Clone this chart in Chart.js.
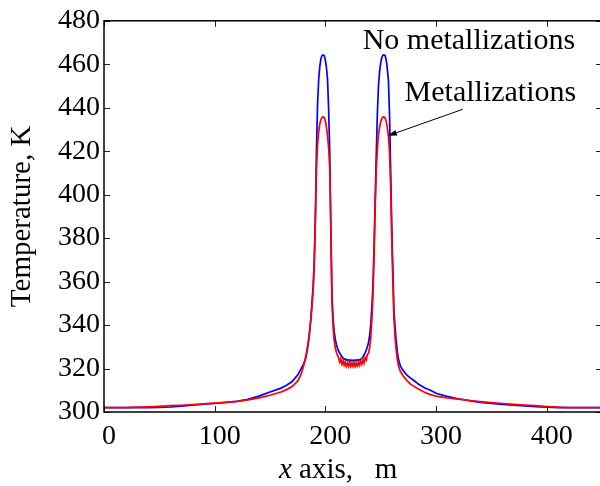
<!DOCTYPE html>
<html>
<head>
<meta charset="utf-8">
<script src="https://cdn.jsdelivr.net/npm/chart.js@4.4.1/dist/chart.umd.min.js"></script>
<style>
  html, body { margin: 0; padding: 0; background: #fff; overflow: hidden; }
  #wrap { position: relative; width: 604px; height: 486px; }
</style>
</head>
<body>
<div id="wrap"><canvas id="tempChart"></canvas></div>
<script>
// position along the x axis (m)
const xPos = [
  0, 10, 20, 30, 40, 50, 60, 70, 80, 90,
  100, 110, 120, 130, 140, 150, 160, 165, 170, 175,
  178, 180,
  181, 182, 183, 184, 185, 186, 187, 188, 189, 190,
  191, 192, 193, 194, 195, 196, 197, 198, 199, 200,
  201, 202, 203, 204, 205, 206, 207, 208, 209, 210,
  211, 212, 213, 214, 215, 216, 217, 218, 219, 220,
  221, 222, 223, 224, 225, 226, 227, 228, 229, 230,
  231, 232, 233, 234, 235, 236, 237, 238, 239, 240,
  241, 242, 243, 244, 245, 246, 247, 248, 249, 250,
  251, 252, 253, 254, 255, 256, 257, 258, 259, 260,
  261, 262, 263, 264, 265, 266, 267, 268,
  270, 272, 274, 277, 280, 285, 290, 295, 300, 310,
  320, 330, 340, 350, 360, 370, 380, 390, 400, 410,
  420, 430, 440, 450
];

// temperature without metallizations (K)
const tNoMetal = [
  302.0, 302.0, 302.0, 302.0, 302.0, 302.1, 302.3, 302.7, 303.1, 303.6,
  304.0, 304.4, 304.9, 305.8, 307.3, 309.2, 311.0, 312.3, 314.0, 317.0,
  319.8, 321.8,
  322.9, 324.0, 326.5, 329.5, 333.0, 337.5, 343.5, 351.0, 358.0, 370.0,
  390.0, 421.0, 442.0, 453.0, 459.0, 462.5, 464.0, 464.3, 464.0, 462.0,
  458.5, 453.0, 439.0, 419.0, 385.0, 354.0, 343.0, 337.0, 333.5, 331.0,
  329.3, 328.0, 327.0, 326.2, 325.5, 324.8, 324.2, 324.4, 323.8, 324.1,
  323.6, 324.0, 323.5, 323.9, 323.5, 323.9, 323.6, 324.0, 323.7, 324.1,
  323.9, 324.4, 324.5, 325.3, 326.3, 327.3, 328.5, 330.0, 332.0, 335.0,
  340.0, 348.0, 358.0, 375.0, 397.0, 418.0, 437.0, 450.0, 456.5, 460.5,
  463.0, 464.2, 464.3, 464.0, 462.0, 458.0, 452.5, 437.0, 412.0, 386.0,
  366.0, 347.0, 339.0, 333.0, 328.0, 324.5, 322.5, 321.0,
  319.3, 318.0, 316.8, 315.6, 314.5, 312.5, 311.0, 310.0, 308.6, 307.2,
  306.1, 305.2, 304.4, 303.9, 303.5, 303.1, 302.8, 302.5, 302.2, 302.0,
  302.0, 302.0, 302.0, 302.0
];

// temperature with metallizations (K)
const tMetal = [
  302.0, 302.0, 302.0, 302.2, 302.4, 302.6, 302.9, 303.1, 303.4, 303.7,
  304.1, 304.4, 304.9, 305.6, 306.5, 307.7, 309.2, 310.3, 311.7, 314.2,
  317.3, 320.5,
  322.5, 325.0, 327.5, 330.5, 334.0, 338.5, 343.0, 349.0, 356.0, 367.0,
  388.0, 412.0, 423.0, 429.0, 432.5, 434.5, 435.5, 435.8, 435.5, 434.0,
  431.0, 427.0, 421.5, 412.0, 382.0, 350.0, 339.0, 333.0, 329.5, 327.5,
  326.0, 325.0, 323.0, 324.5, 322.0, 323.5, 321.5, 323.0, 321.0, 322.5,
  321.0, 323.0, 321.0, 322.5, 321.0, 322.8, 321.0, 322.5, 321.2, 323.0,
  321.5, 323.5, 322.0, 324.0, 322.5, 325.0, 324.0, 326.5, 327.0, 329.5,
  334.0, 342.0, 353.0, 371.0, 393.0, 411.0, 421.0, 427.5, 431.0, 433.5,
  435.0, 435.7, 435.8, 435.3, 433.8, 431.0, 427.0, 420.0, 404.0, 380.0,
  360.0, 343.0, 334.5, 328.5, 324.5, 321.5, 319.8, 318.5,
  316.8, 315.6, 314.3, 312.8, 311.8, 310.3, 309.0, 308.0, 307.3, 306.5,
  305.9, 305.3, 304.8, 304.3, 303.9, 303.5, 303.2, 302.9, 302.5, 302.2,
  302.0, 302.0, 302.0, 302.0
];

const xTicks = [0, 100, 200, 300, 400];
const yTicks = [300, 320, 340, 360, 380, 400, 420, 440, 460, 480];
const seriesNames = ['No metallizations', 'Metallizations'];

// label anchors and arrow, in data coordinates
const noMetalLabelAt = { x: 233.7, y: 466.8 };
const metalLabelAt = { x: 271.6, y: 443.1 };
const arrowTail = { x: 324.3, y: 439.3 };
const arrowHead = { x: 256.5, y: 427.1 };

const serif = '"Liberation Serif", "Times New Roman", serif';
Chart.defaults.font.family = serif;
Chart.defaults.color = '#000';

function toPoints(ys) {
  return xPos.map((x, i) => ({ x: x, y: ys[i] }));
}

// frame with inward ticks, curve labels, arrow and axis titles
const decorations = {
  id: 'decorations',
  afterDatasetsDraw(chart) {
    const { ctx, chartArea: a, scales: { x, y } } = chart;
    ctx.save();

    ctx.strokeStyle = '#222';
    ctx.lineWidth = 1;
    ctx.beginPath();
    xTicks.forEach(v => {
      const px = Math.round(x.getPixelForValue(v)) + 0.5;
      ctx.moveTo(px, a.bottom); ctx.lineTo(px, a.bottom - 6);
      ctx.moveTo(px, a.top); ctx.lineTo(px, a.top + 6);
    });
    yTicks.forEach(v => {
      const py = Math.round(y.getPixelForValue(v)) + 0.5;
      ctx.moveTo(a.left, py); ctx.lineTo(a.left + 6, py);
      ctx.moveTo(a.right, py); ctx.lineTo(a.right - 6, py);
    });
    ctx.stroke();

    ctx.strokeStyle = '#000';
    ctx.lineWidth = 1.5;
    ctx.strokeRect(a.left, a.top, a.right - a.left, a.bottom - a.top);

    // curve labels
    ctx.fillStyle = '#000';
    ctx.font = '30px ' + serif;
    ctx.textAlign = 'left';
    ctx.textBaseline = 'alphabetic';
    ctx.fillText(seriesNames[0], x.getPixelForValue(noMetalLabelAt.x), y.getPixelForValue(noMetalLabelAt.y));
    ctx.fillText(seriesNames[1], x.getPixelForValue(metalLabelAt.x), y.getPixelForValue(metalLabelAt.y));

    // arrow pointing at the metallized curve
    const x0 = x.getPixelForValue(arrowTail.x), y0 = y.getPixelForValue(arrowTail.y);
    const x1 = x.getPixelForValue(arrowHead.x), y1 = y.getPixelForValue(arrowHead.y);
    const ang = Math.atan2(y1 - y0, x1 - x0);
    const headLen = 9, headW = 3;
    ctx.lineWidth = 1;
    ctx.beginPath();
    ctx.moveTo(x0, y0);
    ctx.lineTo(x1 - headLen * Math.cos(ang), y1 - headLen * Math.sin(ang));
    ctx.stroke();
    ctx.beginPath();
    ctx.moveTo(x1, y1);
    ctx.lineTo(x1 - headLen * Math.cos(ang) + headW * Math.sin(ang), y1 - headLen * Math.sin(ang) - headW * Math.cos(ang));
    ctx.lineTo(x1 - headLen * Math.cos(ang) - headW * Math.sin(ang), y1 - headLen * Math.sin(ang) + headW * Math.cos(ang));
    ctx.closePath();
    ctx.fill();

    // x axis title, italic x
    ctx.font = 'italic 29px ' + serif;
    const titleX = a.left + 175, titleY = a.bottom + 66;
    ctx.fillText('x', titleX, titleY);
    const w = ctx.measureText('x').width;
    ctx.font = '29px ' + serif;
    ctx.fillText(' axis,   m', titleX + w, titleY);

    // y axis title
    ctx.translate(29.5, (a.top + a.bottom) / 2);
    ctx.rotate(-Math.PI / 2);
    ctx.textAlign = 'center';
    ctx.fillText('Temperature, K', 0, 0);

    ctx.restore();
  }
};

new Chart(document.getElementById('tempChart'), {
  type: 'line',
  data: {
    datasets: [
      {
        label: seriesNames[0],
        data: toPoints(tNoMetal),
        borderColor: '#0000ff',
        borderWidth: 1.7,
        pointRadius: 0,
        tension: 0,
        fill: false,
        order: 2
      },
      {
        label: seriesNames[1],
        data: toPoints(tMetal),
        borderColor: '#ff0000',
        borderWidth: 1.7,
        pointRadius: 0,
        tension: 0,
        fill: false,
        order: 1
      }
    ]
  },
  options: {
    responsive: true,
    maintainAspectRatio: false,
    animation: false,
    devicePixelRatio: 1,
    layout: { padding: { top: 19, right: 2, left: 0, bottom: 0 } },
    plugins: {
      legend: { display: false },
      tooltip: { enabled: false }
    },
    scales: {
      x: {
        type: 'linear',
        min: 0,
        max: 450,
        afterBuildTicks: s => { s.ticks = xTicks.map(v => ({ value: v })); },
        afterFit: s => { s.height = 74; },
        grid: { display: false, drawTicks: false },
        border: { display: false },
        ticks: { font: { size: 28 }, color: '#000', padding: 8, labelOffset: 5, maxRotation: 0 }
      },
      y: {
        type: 'linear',
        min: 300,
        max: 480,
        afterBuildTicks: s => { s.ticks = yTicks.map(v => ({ value: v })); },
        afterFit: s => { s.width = 104; },
        grid: { display: false, drawTicks: false },
        border: { display: false },
        ticks: { font: { size: 28 }, color: '#000', padding: 4 }
      }
    }
  },
  plugins: [decorations]
});
</script>
</body>
</html>
